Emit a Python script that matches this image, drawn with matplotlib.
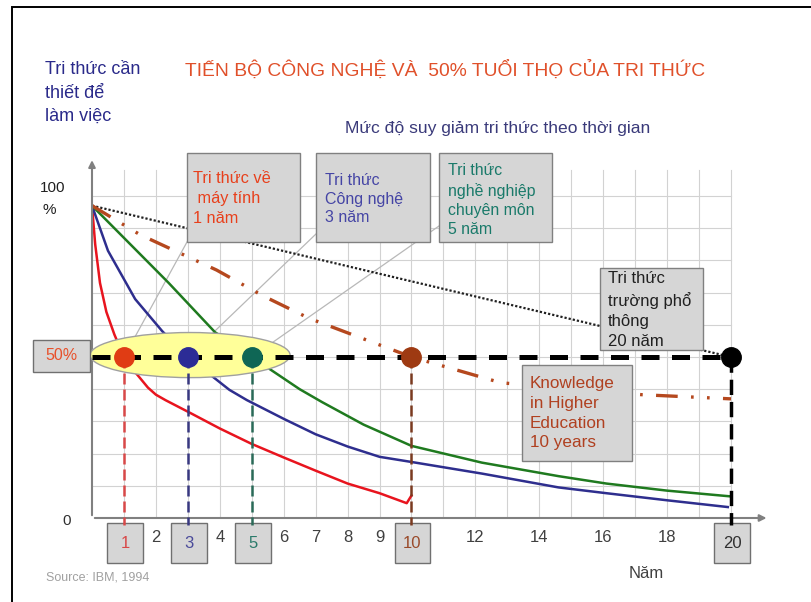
import matplotlib.pyplot as plt
import numpy as np
from matplotlib.patches import Rectangle, Ellipse

plt.rcParams['font.family'] = ['Liberation Sans', 'DejaVu Sans']

# ---- data ----
tick_years = [1, 2, 3, 4, 5, 6, 7, 8, 9, 10, 12, 14, 16, 18, 20]
boxed_years = [1, 3, 5, 10, 20]
boxed_colors = ['#d84848', '#4a4a9a', '#2a7a6a', '#9a4a2a', '#303030']

red_x = [0, 0.1, 0.25, 0.45, 0.7, 1, 1.25, 1.5, 1.75, 2.0, 2.3, 3.1, 4, 5, 6, 7, 8, 9, 9.85, 10]
red_y = [97, 85, 73, 64, 57, 50, 46.5, 43.5, 40.5, 38.3, 36.6, 32.5, 27.8, 23, 18.8, 14.7, 10.7, 7.7, 4.6, 7]

blue_x = [0, 0.5, 1.35, 2.2, 3, 3.7, 4.3, 4.85, 6, 7, 8, 9, 10, 12.2, 14.6, 16.1, 18, 19.9]
blue_y = [97, 83, 68, 58, 50, 44.5, 39.8, 36.6, 30.8, 26, 22.2, 19, 17.4, 13.8, 9.5, 7.7, 5.5, 3.4]

green_x = [0, 1, 2.4, 3.85, 5, 6.5, 7.2, 8.5, 10, 12.2, 14.6, 16.1, 18, 20]
green_y = [97, 87, 73, 57.7, 50, 40, 36, 29, 22.4, 17.2, 13, 10.7, 8.5, 6.7]

school_x = [0, 20]
school_y = [97, 50]

higher_x = [0, 1.5, 3.9, 5.35, 6.8, 10, 12.8, 17.2, 20]
higher_y = [97, 88, 77, 69, 62, 50, 42, 38.3, 37]

half_years = [1, 3, 5, 10, 20]
dot_colors = ['#e03c14', '#2c2c96', '#0f6655', '#9e3a12', '#000000']
drop_colors = ['#d84848', '#383880', '#2a6a58', '#7a3a20', '#000000']

# ---- layout helpers (pixel geometry of the 812x602 slide) ----
W, H = 812, 602
X0, PX_YEAR = 92, 31.95
Y0, PX_PCT = 518, 3.22
XMAX, YMAX = 21.2, 113


def fig_xy(px, py):
    return px / W, 1 - py / H


def to_data(px, py):
    return (px - X0) / PX_YEAR, (Y0 - py) / PX_PCT


fig = plt.figure(figsize=(W / 100, H / 100), dpi=100)
ax = fig.add_axes([X0 / W, 1 - Y0 / H, XMAX * PX_YEAR / W, YMAX * PX_PCT / H])
ax.set_xlim(0, XMAX)
ax.set_ylim(0, YMAX)
ax.axis('off')

# slide frame
fig.patches.append(Rectangle(fig_xy(12, 640), 850 / W, 633 / H, transform=fig.transFigure,
                             fill=False, edgecolor='black', lw=1.4))

# grid
grid_top = 108
for gx in range(1, 21):
    ax.plot([gx, gx], [0, grid_top], color='#d2d2d2', lw=0.8, zorder=0)
for gy in range(10, 110, 10):
    ax.plot([0, 20], [gy, gy], color='#d2d2d2', lw=0.8, zorder=0)

# axes with arrows
ax.annotate('', xy=(XMAX, 0), xytext=(0, 0), annotation_clip=False,
            arrowprops=dict(arrowstyle='-|>', color='#808080', lw=1.5, mutation_scale=10))
ax.annotate('', xy=(0, 112), xytext=(0, 0), annotation_clip=False,
            arrowprops=dict(arrowstyle='-|>', color='#808080', lw=1.5, mutation_scale=10))

# decay curves
ax.plot(red_x, red_y, color='#e8141e', lw=1.8, zorder=2)
ax.plot(blue_x, blue_y, color='#2e2e8e', lw=1.8, zorder=2)
ax.plot(green_x, green_y, color='#1f7a1f', lw=1.8, zorder=2)
ax.plot(school_x, school_y, color='#202020', lw=1.6, ls=(0, (1, 0.9)), zorder=2)
ax.plot(higher_x, higher_y, color='#b5481e', lw=2.4,
        ls=(0, (6.5, 4, 0.8, 4, 0.8, 4)), zorder=2)

# leader lines from the boxes to the half-life dots
leaders = [(to_data(187, 242), 1), (to_data(317, 233), 3), (to_data(439, 226), 5)]
for (lx, ly), yr in leaders:
    ax.plot([lx, yr], [ly, 50], color='#b8b8b8', lw=0.9, zorder=1, clip_on=False)

# highlight ellipse
ax.add_patch(Ellipse((3.07, 50.6), 6.26, 14, facecolor='#ffff99', edgecolor='#a0a0a0',
                     lw=1, zorder=3, clip_on=False))

# 50% line, drop lines and dots
ax.plot([0, 20], [50, 50], color='black', lw=3.6, ls=(0, (3.6, 2.5)), zorder=4)
for yr, dc in zip(half_years, drop_colors):
    lw = 2.5 if yr == 20 else 1.8
    ax.plot([yr, yr], [50, -2.2], color=dc, lw=lw, ls=(0, (4.4, 2)), zorder=4, clip_on=False)
for yr, c in zip(half_years, dot_colors):
    ax.plot(yr, 50, 'o', color=c, ms=14, zorder=5, clip_on=False)

# x tick labels and their boxes
for yr in tick_years:
    if yr in boxed_years:
        c = boxed_colors[boxed_years.index(yr)]
        ax.add_patch(Rectangle((yr - 0.53, -14), 1.12, 12.4, facecolor='#d6d6d6',
                               edgecolor='#707070', lw=1, zorder=3, clip_on=False))
        ax.text(yr + 0.03, -8, str(yr), color=c, fontsize=12, ha='center', va='center',
                zorder=6, clip_on=False)
    else:
        ax.text(yr, -6, str(yr), color='#404040', fontsize=12, ha='center', va='center',
                clip_on=False)

ax.text(-0.78, -0.9, '0', color='#303030', fontsize=11, ha='center', va='center', clip_on=False)
ax.text(-1.62, 102.5, '100', color='#202020', fontsize=11, ha='left', va='center', clip_on=False)
ax.text(-1.55, 95.6, '%', color='#202020', fontsize=11, ha='left', va='center', clip_on=False)

# 50% label box
fig.patches.append(Rectangle(fig_xy(33, 372), 57 / W, 32 / H, transform=fig.transFigure,
                             facecolor='#d6d6d6', edgecolor='#707070', lw=1))
fig.text(*fig_xy(61, 356), '50%', color='#e8502a', fontsize=11.5, ha='center', va='center')

# annotation boxes
boxes = [
    ((187, 153, 300, 242), 'Tri thức về\n máy tính\n1 năm', '#e8401c', (193, 171), 11.8, 1.4),
    ((316, 153, 430, 242), 'Tri thức\nCông nghệ\n3 năm', '#4545a5', (325, 173), 11.5, 1.3),
    ((439, 153, 552, 242), 'Tri thức\nnghề nghiệp\nchuyên môn\n5 năm', '#1a7a6a', (448, 163), 11.4, 1.36),
    ((600, 268, 703, 350), 'Tri thức\ntrường phổ\nthông\n20 năm', '#202020', (608, 271), 12, 1.42),
    ((522, 365, 632, 461), 'Knowledge\nin Higher\nEducation\n10 years', '#b04020', (530, 376), 12.3, 1.4),
]
for (x1, y1, x2, y2), txt, c, (tx, ty), fs, ls in boxes:
    fig.patches.append(Rectangle(fig_xy(x1, y2), (x2 - x1) / W, (y2 - y1) / H,
                                 transform=fig.transFigure, facecolor='#d6d6d6',
                                 edgecolor='#808080', lw=1, zorder=2))
    fig.text(*fig_xy(tx, ty), txt, color=c, fontsize=fs, ha='left', va='top',
             linespacing=ls, zorder=3)

# titles and labels
fig.text(*fig_xy(185, 70), 'TIẾN BỘ CÔNG NGHỆ VÀ  50% TUỔI THỌ CỦA TRI THỨC',
         color='#e0502a', fontsize=13.9, ha='left', va='center')
fig.text(*fig_xy(345, 128), 'Mức độ suy giảm tri thức theo thời gian',
         color='#3a3a7a', fontsize=12.6, ha='left', va='center')
fig.text(*fig_xy(45, 61), 'Tri thức cần\nthiết để\nlàm việc', color='#2a2a8a',
         fontsize=13, ha='left', va='top', linespacing=1.5)
fig.text(*fig_xy(46, 577), 'Source: IBM, 1994', color='#a0a0a0', fontsize=9,
         ha='left', va='center')
fig.text(*fig_xy(646, 574), 'Năm', color='#404040', fontsize=12, ha='center', va='center')

fig.savefig('out.png', dpi=100)
